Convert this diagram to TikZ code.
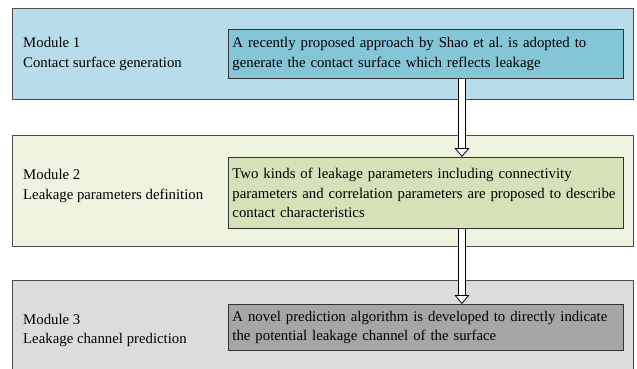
\documentclass[tikz,border=0pt]{standalone}
\usepackage{fontspec}
\setmainfont{Liberation Serif}
\usetikzlibrary{positioning, arrows.meta}
\definecolor{mdblue}{HTML}{B6DDE9}
\definecolor{mdbluein}{HTML}{84C5D8}
\definecolor{mdgreen}{HTML}{EEF4E0}
\definecolor{mdgreenin}{HTML}{D5E1B6}
\definecolor{mdgray}{HTML}{DCDCDC}
\definecolor{mdgrayin}{HTML}{A6A6A6}

\begin{document}
\begin{tikzpicture}[x=1pt, y=-1pt, font=\fontsize{14.8}{19.5}\selectfont,
    modbox/.style={draw=black!70, line width=0.9pt, anchor=north west, minimum width=621pt},
    modlabel/.style={align=left, inner sep=1pt},
    taskbox/.style={draw=black!80, line width=0.9pt, text width=387pt, inner sep=4pt, align=left}]
    \useasboundingbox (0,0) rectangle (637,368);
    \node[modbox, fill=mdblue, minimum height=91pt] (m1) at (12,8) {};
    \node[modbox, fill=mdgreen, minimum height=111pt] (m2) at (12,135) {};
    \node[modbox, fill=mdgray, minimum height=94pt] (m3) at (12,280) {};
    \node[modlabel, right=10pt of m1.west] (l1) {Module 1\\Contact surface generation};
    \node[modlabel, right=10pt of m2.west, yshift=5pt] (l2) {Module 2\\Leakage parameters definition};
    \node[modlabel, right=10pt of m3.west, yshift=-3pt] (l3) {Module 3\\Leakage channel prediction};
    \node[taskbox, fill=mdbluein, minimum height=49pt, left=10pt of m1.east] (t1) {A recently proposed approach by Shao et al.\ is adopted to\\generate the contact surface which reflects leakage};
    \node[taskbox, fill=mdgreenin, minimum height=71pt, left=10pt of m2.east, yshift=-2pt] (t2) {Two kinds of leakage parameters including connectivity\\parameters and correlation parameters are proposed to describe\\contact characteristics};
    \node[taskbox, fill=mdgrayin, minimum height=46pt, left=10pt of m3.east] (t3) {A novel prediction algorithm is developed to directly indicate\\the potential leakage channel of the surface};
    \draw[double=white, double distance=6pt, line width=0.8pt, -{Triangle[length=9pt, width=15pt, fill=white]}] ([xshift=36pt]t1.south) -- ([xshift=36pt]t2.north);
    \draw[double=white, double distance=6pt, line width=0.8pt, -{Triangle[length=9pt, width=15pt, fill=white]}] ([xshift=36pt]t2.south) -- ([xshift=36pt]t3.north);
\end{tikzpicture}
\end{document}
